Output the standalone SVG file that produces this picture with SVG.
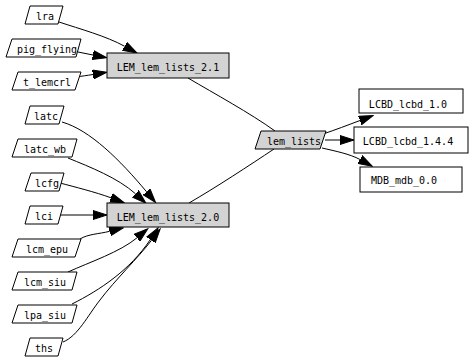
<svg xmlns="http://www.w3.org/2000/svg" width="474" height="362" viewBox="0 0 474 362">
<style>
  .n { fill: #ffffff; stroke: #000000; stroke-width: 1; }
  .g { fill: #d3d3d3; stroke: #000000; stroke-width: 1; }
  text { font-family: "DejaVu Sans Mono", "Liberation Mono", monospace; font-size: 10px; fill: #000000; text-anchor: middle; }
  .e { fill: none; stroke: #000000; stroke-width: 1; }
</style>
<defs>
  <marker id="ah" markerUnits="userSpaceOnUse" markerWidth="15" markerHeight="10" viewBox="0 -5 15 10" refX="0" refY="0" orient="auto">
    <path d="M0,-4.5 L14,0 L0,4.5 Z" fill="#000000" stroke="#000000" stroke-width="1"/>
  </marker>
</defs>
<rect x="0" y="0" width="474" height="362" fill="#ffffff"/>

<g id="connectors">
  <path class="e" d="M59,22 C80,29 106,36 124.7,46.3" marker-end="url(#ah)"/>
  <path class="e" d="M78,52 C83,53 88,54 93,55" marker-end="url(#ah)"/>
  <path class="e" d="M77,77 C82,76 87,75.5 93,74.5" marker-end="url(#ah)"/>
  <path class="e" d="M62,122 C90,130 120,160 146.6,191.8" marker-end="url(#ah)"/>
  <path class="e" d="M68,158 C90,167 118,178 135.5,193.8" marker-end="url(#ah)"/>
  <path class="e" d="M60,183 C75,187 95,192 111,197.8" marker-end="url(#ah)"/>
  <path class="e" d="M59,215 L93,215" marker-end="url(#ah)"/>
  <path class="e" d="M80,239 C88,234 99,234 109.7,231.3" marker-end="url(#ah)"/>
  <path class="e" d="M68,272 C90,262 120,252 137,237.8" marker-end="url(#ah)"/>
  <path class="e" d="M72,304 C100,290 130,270 150.3,239.6" marker-end="url(#ah)"/>
  <path class="e" d="M63,342 C78,336 88,315 100,300 C115,280 138,258 151.6,240.2" marker-end="url(#ah)"/>
  <path class="e" d="M188,78 C215,94 250,113 275,131"/>
  <path class="e" d="M189,203 C215,188 250,165 274,149"/>
  <path class="e" d="M323,134 C335,130 348,125 360,120.5" marker-end="url(#ah)"/>
  <path class="e" d="M325,140 L340,140" marker-end="url(#ah)"/>
  <path class="e" d="M322,148 C335,151 350,154 360,159.5" marker-end="url(#ah)"/>
</g>

<g id="lra">
  <polygon class="n" points="30,6 63,6 58,24 25,24"/>
  <text x="45" y="20">lra</text>
</g>
<g id="pig_flying">
  <polygon class="n" points="12,39 81,39 76,57 6,57"/>
  <text x="47" y="53">pig_flying</text>
</g>
<g id="t_lemcrl">
  <polygon class="n" points="18,72 81,72 75,90 12,90"/>
  <text x="47" y="86">t_lemcrl</text>
</g>
<g id="latc">
  <polygon class="n" points="30,106 64,106 59,124 25,124"/>
  <text x="46" y="120">latc</text>
</g>
<g id="latc_wb">
  <polygon class="n" points="18,139 77,139 72,157 12,157"/>
  <text x="45" y="153">latc_wb</text>
</g>
<g id="lcfg">
  <polygon class="n" points="31,173 64,173 59,191 25,191"/>
  <text x="47" y="187">lcfg</text>
</g>
<g id="lci">
  <polygon class="n" points="30,206 63,206 58,224 25,224"/>
  <text x="44" y="220">lci</text>
</g>
<g id="lcm_epu">
  <polygon class="n" points="18,239 81,239 75,257 12,257"/>
  <text x="47" y="253">lcm_epu</text>
</g>
<g id="lcm_siu">
  <polygon class="n" points="18,272 77,272 72,290 12,290"/>
  <text x="45" y="286">lcm_siu</text>
</g>
<g id="lpa_siu">
  <polygon class="n" points="18,305 77,305 72,323 12,323"/>
  <text x="45" y="319">lpa_siu</text>
</g>
<g id="ths">
  <polygon class="n" points="30,338 63,338 58,356 25,356"/>
  <text x="44" y="352">ths</text>
</g>
<g id="LEM_lem_lists_2.1">
  <rect class="g" x="107" y="53" width="122" height="25"/>
  <text x="168" y="71">LEM_lem_lists_2.1</text>
</g>
<g id="LEM_lem_lists_2.0">
  <rect class="g" x="107" y="203" width="122" height="24"/>
  <text x="168" y="221">LEM_lem_lists_2.0</text>
</g>
<g id="lem_lists">
  <polygon class="g" points="261,131 326,131 320,149 255,149"/>
  <text x="294" y="145">lem_lists</text>
</g>
<g id="LCBD_lcbd_1.0">
  <rect class="n" x="359" y="89" width="104" height="24"/>
  <text x="408" y="108">LCBD_lcbd_1.0</text>
</g>
<g id="LCBD_lcbd_1.4.4">
  <rect class="n" x="354" y="127" width="114" height="26"/>
  <text x="408" y="145">LCBD_lcbd_1.4.4</text>
</g>
<g id="MDB_mdb_0.0">
  <rect class="n" x="360" y="167" width="102" height="25"/>
  <text x="404" y="184">MDB_mdb_0.0</text>
</g>
</svg>
